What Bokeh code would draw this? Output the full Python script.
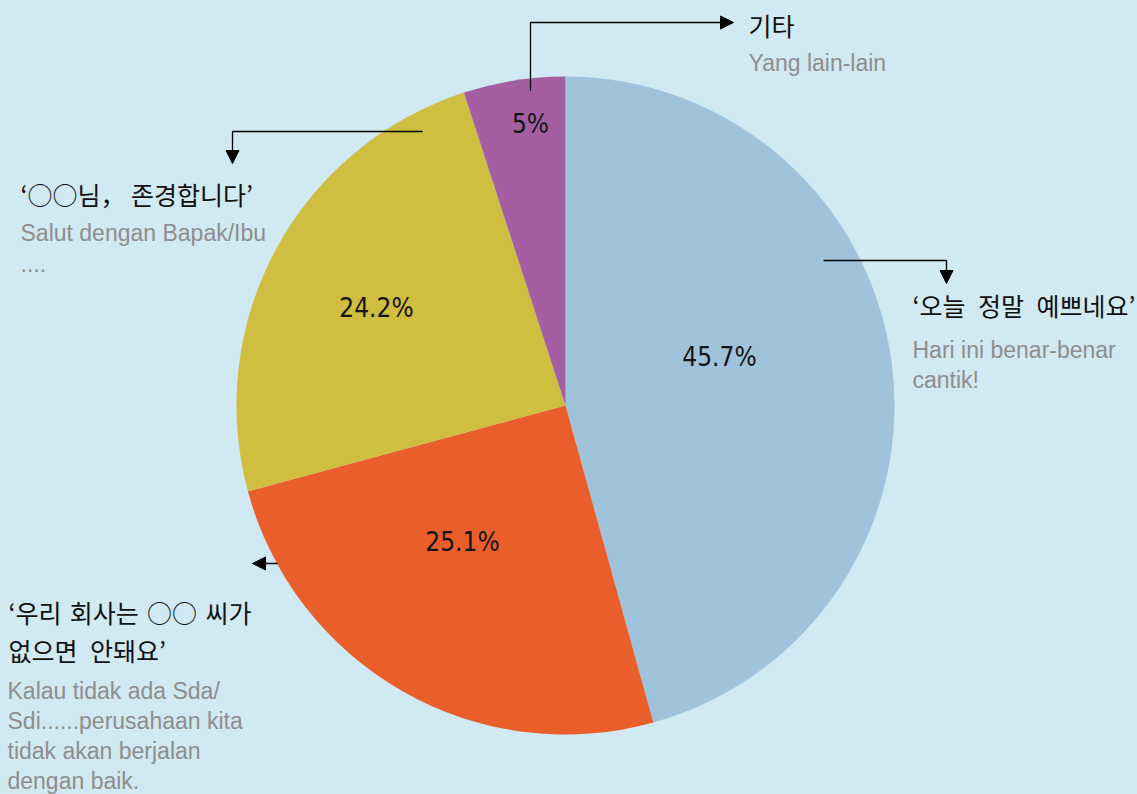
import math
from bokeh.plotting import figure
from bokeh.models import Range1d, Arrow, NormalHead, ColumnDataSource
from bokeh.embed import file_html
from bokeh.resources import INLINE
from bokeh.core.properties import value

# ---------------- data ----------------
categories = ["‘오늘 정말 예쁘네요’", "‘우리 회사는 ○○ 씨가 없으면 안돼요’", "‘○○님， 존경합니다’", "기타"]
shares = [45.7, 25.1, 24.2, 5.0]
pct_labels = ["45.7%", "25.1%", "24.2%", "5%"]
colors = ["#A0C3DC", "#EA5E2B", "#CFBE3F", "#A45EA2"]

# ---------------- layout (page pixels, y downwards) ----------------
W, H = 1137, 794
BG = "#D0E9F2"
CX, CY, R = 565, 405, 329

def Y(py):
    return H - py

p = figure(width=W, height=H, x_range=Range1d(0, W), y_range=Range1d(0, H),
           output_backend="svg", toolbar_location=None, min_border=0)
p.axis.visible = False
p.grid.visible = False
p.outline_line_color = None
p.background_fill_color = BG
p.border_fill_color = BG

# wedges, clockwise from 12 o'clock
total = sum(shares)
starts, ends = [], []
acc = 0.0
for s in shares:
    a0 = 90 - acc / total * 360
    acc += s
    a1 = 90 - acc / total * 360
    starts.append(math.radians(a1))
    ends.append(math.radians(a0))
src = ColumnDataSource(dict(start=starts, end=ends, color=colors, cat=categories))
p.wedge(x=CX, y=Y(CY), radius=R, start_angle="start", end_angle="end",
        fill_color="color", line_color=None, source=src)

# percent labels
lab_px = [719, 462, 376, 530]
lab_py = [356, 541, 307, 123]
p.text(x=lab_px, y=[Y(v) for v in lab_py], text=pct_labels, text_align="center", text_baseline="middle",
       text_font=value("DejaVu Sans Condensed"), text_font_size=value("26px"), text_color="#151515")

# annotation texts
KFONT = value("Noto Sans CJK KR")
LFONT = value("Liberation Sans")
EN = "\u2002"
TH = "\u2004"
dark = [("기타", 748, 24), ("‘○○님， 존경합니다’", 20, 193),
        ("‘오늘" + EN + "정말" + EN + "예쁘네요’", 912, 304),
        ("‘우리" + TH + "회사는" + TH + "○○" + TH + "씨가", 8, 611),
        ("없으면" + EN + "안돼요’", 8, 649)]
p.text(x=[d[1] for d in dark], y=[Y(d[2]) for d in dark], text=[d[0] for d in dark],
       text_align="left", text_baseline="middle", text_font=KFONT, text_font_size=value("25px"),
       text_color="#111111")
gray = [("Yang lain-lain", 748, 62), ("Salut dengan Bapak/Ibu", 20, 232), ("....", 20, 263),
        ("Hari ini benar-benar", 912, 349), ("cantik!", 912, 379),
        ("Kalau tidak ada Sda/", 7, 690), ("Sdi......perusahaan kita", 7, 720),
        ("tidak akan berjalan", 7, 750), ("dengan baik.", 7, 780)]
p.text(x=[g[1] for g in gray], y=[Y(g[2]) for g in gray], text=[g[0] for g in gray],
       text_align="left", text_baseline="middle", text_font=LFONT, text_font_size=value("23px"),
       text_color="#8E8E8E")

# leader lines and arrows
def head():
    return NormalHead(size=13, fill_color="black", line_color="black", line_width=1)

p.line(x=[530, 530], y=[Y(90), Y(22)], line_color="black", line_width=1.3)
p.add_layout(Arrow(end=head(), x_start=530, y_start=Y(22), x_end=733, y_end=Y(22),
                   line_color="black", line_width=1.3))

p.line(x=[422, 232], y=[Y(131), Y(131)], line_color="black", line_width=1.3)
p.add_layout(Arrow(end=head(), x_start=232, y_start=Y(131), x_end=232, y_end=Y(163),
                   line_color="black", line_width=1.3))

p.line(x=[823, 946], y=[Y(260), Y(260)], line_color="black", line_width=1.3)
p.add_layout(Arrow(end=head(), x_start=946, y_start=Y(260), x_end=946, y_end=Y(283),
                   line_color="black", line_width=1.3))

p.add_layout(Arrow(end=head(), x_start=277, y_start=Y(563), x_end=252, y_end=Y(563),
                   line_color="black", line_width=1.3))

html = file_html(p, INLINE)
html = html.replace("</head>", "<style>body{background:%s;}</style></head>" % BG, 1)
open("out.html", "w").write(html)
